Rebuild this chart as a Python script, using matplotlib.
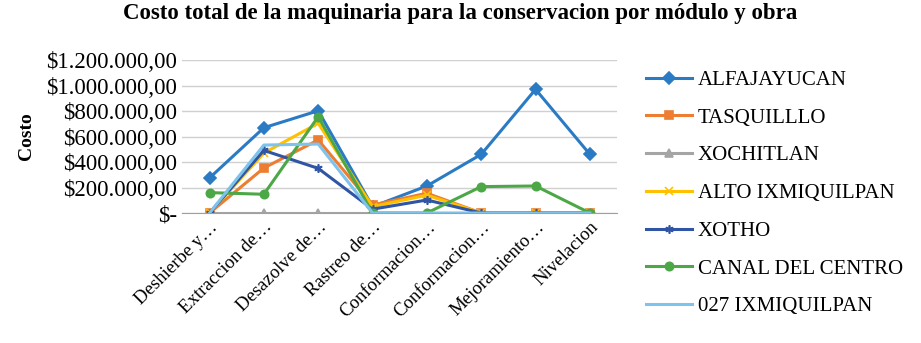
import matplotlib.pyplot as plt
from matplotlib.ticker import FuncFormatter

plt.rcParams['font.family'] = ['Liberation Serif', 'DejaVu Serif']

# Categories (truncated labels as in the chart)
categorias = ['Deshierbe y…', 'Extraccion de…', 'Desazolve de…', 'Rastreo de…',
              'Conformacion…', 'Conformacion…', 'Mejoramiento…', 'Nivelacion']

# Costs per module (estimated from the chart)
alfajayucan = [275000, 669000, 802000, 50000, 212000, 460000, 970000, 460000]
tasquilllo = [0, 353000, 573000, 63000, 155000, 0, 0, 0]
xochitlan = [0, 0, 0, 0, 0, 0, 0, 0]
alto_ixmiquilpan = [0, 470000, 704000, 50000, 140000, 0, 0, 0]
xotho = [0, 491000, 350000, 30000, 102000, 0, 0, 0]
canal_del_centro = [160000, 147000, 755000, 0, 0, 207000, 212000, 0]
ixmiquilpan_027 = [0, 533000, 541000, 0, 0, 0, 0, 0]

series = [
    ('ALFAJAYUCAN', alfajayucan, '#2B7BC4', 'D'),
    ('TASQUILLLO', tasquilllo, '#ED7D31', 's'),
    ('XOCHITLAN', xochitlan, '#A5A5A5', '^'),
    ('ALTO IXMIQUILPAN', alto_ixmiquilpan, '#FFC000', 'x'),
    ('XOTHO', xotho, '#2F55A4', (6, 2, 0)),
    ('CANAL DEL CENTRO', canal_del_centro, '#4CA847', 'o'),
    ('027 IXMIQUILPAN', ixmiquilpan_027, '#7EC3EC', None),
]


def money(v, pos):
    if v == 0:
        return '$-'
    return '$' + f'{v:,.2f}'.replace(',', 'X').replace('.', ',').replace('X', '.')


fig = plt.figure(figsize=(9.21, 3.43), dpi=100)
ax = fig.add_axes([0.198, 0.379, 0.472, 0.446])

x = range(len(categorias))
for name, vals, color, marker in series:
    ax.plot(x, vals, color=color, linewidth=2.2, marker=marker, markersize=6,
            markeredgewidth=1.2, label=name)

ax.set_xlim(-0.5, len(categorias) - 0.5)
ax.set_ylim(0, 1200000)
ax.set_yticks(range(0, 1200001, 200000))
ax.yaxis.set_major_formatter(FuncFormatter(money))
ax.grid(axis='y', color='#D0D0D0', linewidth=1)
ax.set_axisbelow(True)
for s in ['top', 'right', 'left']:
    ax.spines[s].set_visible(False)
ax.spines['bottom'].set_color('#A0A0A0')
ax.tick_params(axis='both', length=0)
ax.tick_params(axis='y', labelsize=16.5, pad=4)
ax.tick_params(axis='x', labelsize=13.5, pad=4)
ax.set_xticks(list(x))
ax.set_xticklabels(categorias, rotation=45, ha='right', rotation_mode='anchor')
ax.set_ylabel('Costo', fontsize=14, fontweight='bold', labelpad=8)

fig.suptitle('Costo total de la maquinaria para la conservacion por módulo y obra',
             fontsize=16.5, fontweight='bold', y=0.99)

fig.legend(loc='upper left', bbox_to_anchor=(0.69, 0.825), frameon=False,
           fontsize=15, labelspacing=0.87, handlelength=2.2, handletextpad=0.3,
           borderpad=0)

fig.savefig('out.png', dpi=100)
